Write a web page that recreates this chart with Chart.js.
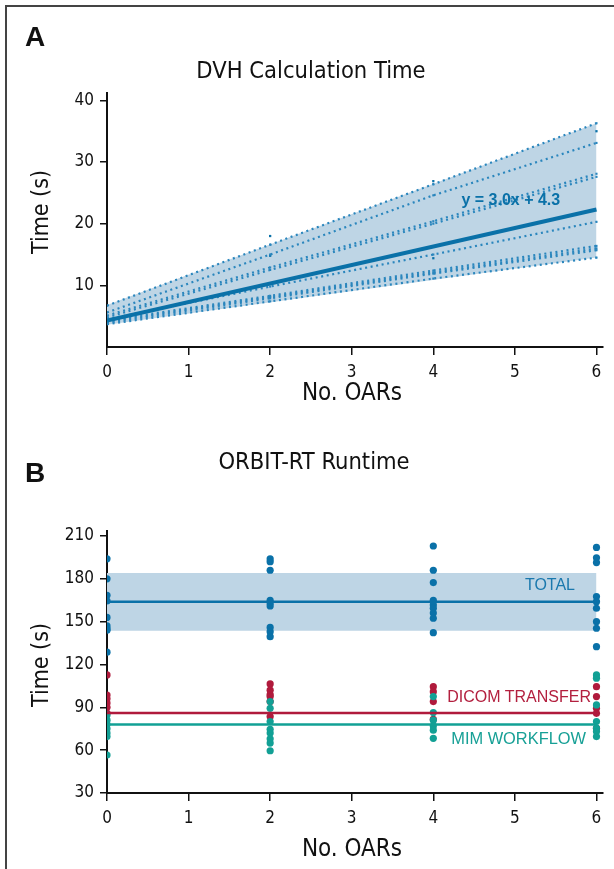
<!DOCTYPE html>
<html>
<head>
<meta charset="utf-8">
<script src="https://cdn.jsdelivr.net/npm/chart.js@4.4.1/dist/chart.umd.min.js"></script>
<style>
  html, body { margin:0; padding:0; background:#fff; width:614px; height:869px; overflow:hidden; }
  .abs { position:absolute; white-space:nowrap; z-index:5; }
  .narrow { font-family:'Liberation Sans Narrow','DejaVu Sans Condensed','Roboto Condensed','Liberation Sans',sans-serif; color:#111; }
  .panel { font-family:'Liberation Sans',Arial,sans-serif; font-weight:bold; font-size:28px; color:#111; }
  .ctr { transform:translate(-50%,-50%); }
  .vt { transform:translate(-50%,-50%) rotate(-90deg); }
  .grp { font-family:'Liberation Sans',Arial,sans-serif; font-size:16px; transform:translateY(-50%); text-align:right; }
  canvas { position:absolute; left:0; z-index:1; }
</style>
</head>
<body>
<div class="abs" style="left:5px;top:5px;width:700px;height:900px;border-left:2px solid #444;border-top:2px solid #444;z-index:0;"></div>

<canvas id="chartA" width="614" height="420" style="top:0px;"></canvas>
<canvas id="chartB" width="614" height="449" style="top:420px;"></canvas>

<div class="abs panel" style="left:25px;top:21px;">A</div>
<div class="abs narrow ctr" style="left:311px;top:70px;font-size:23.5px;">DVH Calculation Time</div>
<div class="abs narrow vt" style="left:40px;top:212px;font-size:23px;">Time (s)</div>
<div class="abs narrow ctr" style="left:352px;top:392px;font-size:24px;">No. OARs</div>

<div class="abs panel" style="left:25px;top:457px;">B</div>
<div class="abs narrow ctr" style="left:314px;top:461px;font-size:23.5px;">ORBIT-RT Runtime</div>
<div class="abs narrow vt" style="left:40px;top:665px;font-size:23px;">Time (s)</div>
<div class="abs narrow ctr" style="left:352px;top:848px;font-size:24px;">No. OARs</div>

<div class="abs grp" style="right:39px;top:585px;color:#1a78ad;">TOTAL</div>
<div class="abs grp" style="right:23px;top:697px;color:#b3203f;">DICOM TRANSFER</div>
<div class="abs grp" style="right:28px;top:738px;color:#17a096;font-size:16.4px;">MIM WORKFLOW</div>

<script>
// ---------------- Panel A data ----------------
const oarCountsA = [0, 2, 4, 6];
const dvhLine1 = [6.7, 16.6, 26.4, 36.3];
const dvhLine2 = [5.6, 15.0, 24.6, 33.1];
const dvhLine3 = [5.1, 12.9, 20.4, 28.1];
const dvhLine4 = [4.8, 12.5, 20.0, 27.6];
const dvhLine5 = [4.5, 9.8, 15.0, 20.3];
const dvhLine6 = [4.3, 8.3, 12.4, 16.4];
const dvhLine7 = [4.1, 8.1, 12.1, 16.0];
const dvhLine8 = [3.9, 7.9, 11.9, 15.7];
const dvhLine9 = [3.7, 7.4, 11.1, 14.5];
const dvhOutlierX = [2, 2, 4, 4, 6];
const dvhOutlierY = [18.0, 14.8, 26.9, 14.4, 35.0];
const regX = [0, 6];
const regY = [4.3, 22.3];
const bandAX = [0, 6];
const bandAUpper = [6.8, 36.3];
const bandALower = [3.6, 14.5];
const equationText = 'y = 3.0x + 4.3';
const yTicksA = [10, 20, 30, 40];
const xTicks = [0, 1, 2, 3, 4, 5, 6];

// ---------------- Panel B data ----------------
const oarCountsB = [0, 2, 4, 6];
const totalTimes = [
  [194, 180, 168.5, 164.5, 153, 147, 145, 144, 128.6],
  [194, 192, 186, 165, 163, 161, 146, 143, 139.5],
  [203, 186, 177.4, 165, 161.7, 159.4, 156, 152.4, 142.3],
  [202, 194.7, 191.4, 167.6, 164, 159.4, 150, 145.4, 132.5]
];
const dicomTimes = [
  [112.7, 98.6, 96, 93, 90, 86],
  [106.4, 102, 99, 97.5, 94, 83.5],
  [104.5, 101, 94, 81.6],
  [104.5, 97.5, 89.3, 85.8, 75.3]
];
const mimTimes = [
  [84.6, 81, 78, 75, 72, 69.5, 56.6],
  [94, 89.3, 80, 74.6, 72, 68, 65, 59.6],
  [97.5, 86.3, 81, 77, 74, 68.3],
  [112.7, 110.4, 91.7, 80, 75.5, 73, 69.5]
];
const meanX = [0, 6];
const totalMean = 164;
const dicomMean = 86;
const mimMean = 78;
const bandBUpper = 184;
const bandBLower = 143.7;
const yTicksB = [30, 60, 90, 120, 150, 180, 210];

// ---------------- styles ----------------
const BLUE = '#0a71a8';
const DOT_BLUE = '#2a86bd';
const RED = '#b01a3c';
const TEAL = '#12a095';
const BAND = 'rgba(190,213,229,1)';
const INK = '#111';
const TICK_FONT = { family: "'Liberation Sans Narrow','DejaVu Sans Condensed','Liberation Sans',sans-serif", size: 17 };

function pts(xs, ys) { return xs.map((x, i) => ({ x: x, y: ys[i] })); }
function flat(xs, groups) {
  const out = [];
  groups.forEach((g, i) => g.forEach(v => out.push({ x: xs[i], y: v })));
  return out;
}

function scales(yMin, yMax, yTicks, xAxisHeight) {
  return {
    x: {
      type: 'linear', min: 0, max: 6.08,
      afterBuildTicks: s => { s.ticks = xTicks.map(v => ({ value: v })); },
      afterFit: s => { s.height = xAxisHeight; },
      ticks: { color: INK, font: TICK_FONT, padding: 7, maxRotation: 0 },
      grid: { drawOnChartArea: false, drawTicks: true, tickLength: 8, color: INK, lineWidth: 1.5 },
      border: { color: INK, width: 2 }
    },
    y: {
      type: 'linear', min: yMin, max: yMax,
      afterBuildTicks: s => { s.ticks = yTicks.map(v => ({ value: v })); },
      afterFit: s => { s.width = 107; },
      ticks: { color: INK, font: TICK_FONT, padding: 6 },
      grid: { drawOnChartArea: false, drawTicks: true, tickLength: 7, color: INK, lineWidth: 1.5 },
      border: { color: INK, width: 2 }
    }
  };
}

const equationPlugin = {
  id: 'equation',
  afterDatasetsDraw(chart, args, opts) {
    if (!opts.text) return;
    const { ctx, scales: { x, y } } = chart;
    ctx.save();
    ctx.font = "bold 16px 'Liberation Sans', Arial, sans-serif";
    ctx.fillStyle = BLUE;
    ctx.textAlign = 'center';
    ctx.textBaseline = 'middle';
    ctx.fillText(opts.text, x.getPixelForValue(opts.x), y.getPixelForValue(opts.y));
    ctx.restore();
  }
};

const dvhLines = [dvhLine1, dvhLine2, dvhLine3, dvhLine4, dvhLine5, dvhLine6, dvhLine7, dvhLine8, dvhLine9];
const datasetsA = [
  { type: 'line', data: pts(regX, regY), borderColor: BLUE, borderWidth: 4, pointRadius: 0, fill: false },
  ...dvhLines.map(l => ({
    type: 'line', data: pts(oarCountsA, l), borderColor: DOT_BLUE, borderWidth: 2.2,
    borderDash: [2, 3.6], pointRadius: 1.5, pointStyle: 'rect', pointBackgroundColor: DOT_BLUE,
    pointBorderWidth: 0, fill: false
  })),
  { type: 'scatter', data: pts(dvhOutlierX, dvhOutlierY), pointRadius: 1.6, pointStyle: 'rect',
    backgroundColor: BLUE, borderWidth: 0 },
  { type: 'line', data: pts(bandAX, bandAUpper), borderWidth: 0, pointRadius: 0, backgroundColor: BAND, fill: '+1' },
  { type: 'line', data: pts(bandAX, bandALower), borderWidth: 0, pointRadius: 0, fill: false }
];

new Chart(document.getElementById('chartA'), {
  data: { datasets: datasetsA },
  options: {
    responsive: false, animation: false, devicePixelRatio: 1,
    layout: { padding: { top: 93, right: 11, left: 0, bottom: 0 } },
    plugins: { legend: { display: false }, tooltip: { enabled: false },
      filler: { drawTime: 'beforeDatasetsDraw' },
      equation: { text: equationText, x: 4.95, y: 23.8 } },
    scales: scales(0, 41.2, yTicksA, 73)
  },
  plugins: [equationPlugin]
});

const datasetsB = [
  { type: 'line', data: pts(meanX, [totalMean, totalMean]), borderColor: BLUE, borderWidth: 2.5, pointRadius: 0, fill: false },
  { type: 'line', data: pts(meanX, [mimMean, mimMean]), borderColor: TEAL, borderWidth: 2.5, pointRadius: 0, fill: false },
  { type: 'line', data: pts(meanX, [dicomMean, dicomMean]), borderColor: RED, borderWidth: 2.5, pointRadius: 0, fill: false },
  { type: 'scatter', data: flat(oarCountsB, mimTimes), pointRadius: 3.6, backgroundColor: TEAL, borderWidth: 0 },
  { type: 'scatter', data: flat(oarCountsB, dicomTimes), pointRadius: 3.6, backgroundColor: RED, borderWidth: 0 },
  { type: 'scatter', data: flat(oarCountsB, totalTimes), pointRadius: 3.6, backgroundColor: BLUE, borderWidth: 0 },
  { type: 'line', data: pts(meanX, [bandBUpper, bandBUpper]), borderWidth: 0, pointRadius: 0, backgroundColor: BAND, fill: '+1' },
  { type: 'line', data: pts(meanX, [bandBLower, bandBLower]), borderWidth: 0, pointRadius: 0, fill: false }
];

new Chart(document.getElementById('chartB'), {
  data: { datasets: datasetsB },
  options: {
    responsive: false, animation: false, devicePixelRatio: 1,
    layout: { padding: { top: 111, right: 11, left: 0, bottom: 0 } },
    plugins: { legend: { display: false }, tooltip: { enabled: false },
      filler: { drawTime: 'beforeDatasetsDraw' } },
    scales: scales(30, 213.5, yTicksB, 76)
  }
});
</script>
</body>
</html>
